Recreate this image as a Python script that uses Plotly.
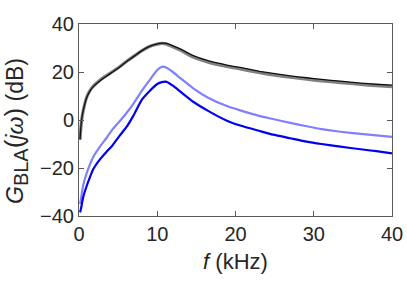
import plotly.graph_objects as go

f_khz = [0.13, 0.22, 0.34, 0.55, 0.98, 1.4, 1.8, 2.7, 3.5, 4.3, 5.2, 6.1, 6.9, 8.0, 9.0, 10.0, 10.6,
         11.2, 12.0, 13.0, 14.6, 16.5, 18.9, 20.6, 23.1, 24.8, 27.0, 29.1, 31.0, 33.4, 36.0, 38.0, 40.0]

gray_db = [-8.3, -4.0, 0.0, 4.0, 9.5, 12.3, 14.0, 16.7, 18.5, 20.2, 22.2, 24.5, 26.3, 28.8, 30.6, 31.6, 31.9,
           31.6, 30.5, 29.0, 26.2, 24.1, 22.3, 21.3, 19.7, 18.8, 17.8, 17.0, 16.3, 15.6, 14.8, 14.3, 13.9]

black_db = [-8.0, -3.8, 0.2, 4.2, 9.3, 12.0, 13.8, 16.4, 18.2, 20.0, 22.1, 24.4, 26.2, 28.8, 30.7, 31.7, 32.0,
            31.9, 30.9, 29.5, 26.8, 24.7, 22.9, 21.9, 20.3, 19.4, 18.4, 17.6, 16.9, 16.2, 15.4, 14.9, 14.5]

lightblue_db = [-35.0, -33.5, -31.0, -27.0, -22.2, -18.5, -15.5, -11.0, -7.5, -3.8, -0.5, 3.0, 6.5, 12.0, 16.5, 20.8, 22.2,
                21.8, 20.0, 17.3, 13.2, 9.3, 5.8, 4.0, 1.6, 0.4, -1.2, -2.6, -3.8, -4.9, -5.8, -6.4, -7.0]

blue_db = [-38.5, -37.5, -35.5, -32.0, -27.5, -23.8, -20.6, -16.3, -13.3, -10.5, -6.5, -2.8, 1.5, 8.3, 12.0, 15.0, 15.8,
           15.9, 14.3, 11.7, 7.6, 3.8, -0.3, -2.3, -4.6, -6.1, -7.6, -9.0, -10.0, -11.1, -12.2, -13.0, -13.9]

x_ticks = [0, 10, 20, 30, 40]
y_ticks = [-40, -20, 0, 20, 40]

fig = go.Figure()
line_shape = dict(shape="spline", smoothing=0.5)
fig.add_trace(go.Scatter(x=f_khz, y=lightblue_db, mode="lines",
                         line=dict(color="#8080ff", width=2.2, **line_shape)))
fig.add_trace(go.Scatter(x=f_khz, y=blue_db, mode="lines",
                         line=dict(color="#0000f0", width=2.2, **line_shape)))
fig.add_trace(go.Scatter(x=f_khz, y=gray_db, mode="lines",
                         line=dict(color="#808080", width=3.2, **line_shape)))
fig.add_trace(go.Scatter(x=f_khz, y=black_db, mode="lines",
                         line=dict(color="#111111", width=1.3, **line_shape)))

font = dict(family="Liberation Sans, Arial, sans-serif", size=20, color="#262626")
title_font = dict(family="Liberation Sans, Arial, sans-serif", size=22, color="#262626")
ytitle_font = dict(family="Liberation Sans, Arial, sans-serif", size=23, color="#262626")
axis_common = dict(showgrid=False, zeroline=False, showline=True, linecolor="#5a5a5a", linewidth=1,
                   mirror="ticks", ticks="inside", ticklen=5, tickcolor="#5a5a5a", tickfont=font,
                   automargin=False)

fig.update_layout(
    width=407, height=288,
    margin=dict(l=79, r=15, t=24, b=72),
    paper_bgcolor="white", plot_bgcolor="white",
    showlegend=False,
    hovermode=False,
    font=font,
    xaxis=dict(range=[0, 40], tickvals=x_ticks, **axis_common,
               title=dict(text="<i>f</i> (kHz)", font=title_font, standoff=9)),
    yaxis=dict(range=[-40, 40], tickvals=y_ticks, **axis_common),
)
fig.add_annotation(
    text="<i>G</i><sub><span style=\"font-size:20px\">BLA</span></sub>"
         "<span style=\"font-size:26px\">(</span><i>jω</i><span style=\"font-size:26px\">)</span> (dB)",
    xref="paper", yref="paper", x=0, y=0.5, xshift=-64, yshift=-11,
    xanchor="center", yanchor="middle", textangle=-90, showarrow=False, font=ytitle_font,
)

fig.write_html("out.html", config={"displayModeBar": False},
               post_script="document.body.style.margin='0';document.body.style.overflow='hidden';")
